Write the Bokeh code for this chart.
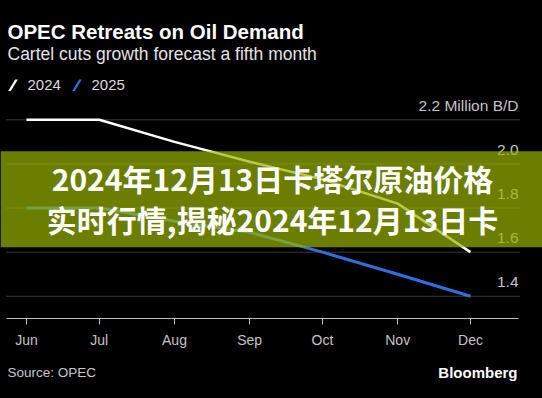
import pandas as pd
from bokeh.plotting import figure
from bokeh.layouts import column
from bokeh.models import Label, BoxAnnotation, PolyAnnotation, Range1d, FixedTicker, DatetimeTickFormatter
from bokeh.embed import file_html
from bokeh.resources import INLINE

# ---- data ----
months = ["2024-06-01", "2024-07-01", "2024-08-01", "2024-09-01",
          "2024-10-01", "2024-11-01", "2024-12-01"]
month_labels = ["Jun", "Jul", "Aug", "Sep", "Oct", "Nov", "Dec"]
growth_2024 = [2.2, 2.2, 2.1, 2.01, 1.93, 1.82, 1.6]
growth_2025 = [1.8, 1.8, 1.74, 1.69, 1.6, 1.5, 1.4]
y_ticks = [1.4, 1.6, 1.8, 2.0, 2.2]
y_tick_labels = ["1.4", "1.6", "1.8", "2.0", "2.2 Million B/D"]
series_names = ["2024", "2025"]
series_colors = ["#ffffff", "#2f6fe0"]

title_text = "OPEC Retreats on Oil Demand"
subtitle_text = "Cartel cuts growth forecast a fifth month"
source_text = "Source: OPEC"
brand_text = "Bloomberg"
banner_lines = ["2024年12月13日卡塔尔原油价格", "实时行情,揭秘2024年12月13日卡"]

# ---- scales ----
dates = pd.to_datetime(months)
tick_ms = [int(d.value // 10**6) for d in dates]
DAY = 86400000.0
PX_PER_DAY = 444.0 / 183.0          # Jun 1 -> Dec 1 spans 444 px
W, H_MAIN, H_FOOT = 542, 352, 46
FRAME_BOTTOM = 318
x_start = tick_ms[0] - 26.0 / PX_PER_DAY * DAY
x_end = x_start + W / PX_PER_DAY * DAY
def px_to_x(px):
    return x_start + px / PX_PER_DAY * DAY

PX_PER_UNIT = 220.6
y_top = 2.2 + 119.3 / PX_PER_UNIT
y_bottom = y_top - FRAME_BOTTOM / PX_PER_UNIT

p = figure(width=W, height=H_MAIN, x_axis_type="datetime",
           x_range=Range1d(x_start, x_end), y_range=Range1d(y_bottom, y_top),
           y_axis_location=None, toolbar_location=None, output_backend="svg",
           background_fill_color="#000000", border_fill_color="#000000",
           outline_line_color=None,
           min_border_left=0, min_border_right=0, min_border_top=0,
           min_border_bottom=H_MAIN - FRAME_BOTTOM)
p.grid.visible = False

# dotted horizontal gridlines (limited extent)
n = len(y_ticks)
p.segment(x0=[px_to_x(6)] * n, y0=y_ticks, x1=[px_to_x(520)] * n, y1=y_ticks,
          line_color="#707070", line_dash="1 1", line_width=1)

# x axis
ax = p.xaxis[0]
ax.ticker = FixedTicker(ticks=tick_ms)
ax.formatter = DatetimeTickFormatter(months="%b", days="%b", hours="%b", years="%b")
ax.major_label_overrides = {t: lab for t, lab in zip(tick_ms, month_labels)}
ax.bounds = (px_to_x(6), px_to_x(518))
ax.axis_line_color = "#bdbdbd"
ax.major_tick_line_color = "#bdbdbd"
ax.major_tick_out = 6
ax.major_tick_in = 0
ax.minor_tick_line_color = None
ax.major_label_text_color = "#c4c4c4"
ax.major_label_text_font = "Liberation Sans"
ax.major_label_text_font_size = "14px"
ax.major_label_standoff = 7

# lines
p.line(dates, growth_2024, line_color=series_colors[0], line_width=2.5)
p.line(dates, growth_2025, line_color=series_colors[1], line_width=3)

# y labels (above gridlines, right aligned)
for t, lab in zip(y_ticks, y_tick_labels):
    p.add_layout(Label(x=518, y=t, x_units="canvas", y_units="data", text=lab,
                       text_align="right", text_baseline="middle", y_offset=14,
                       text_color="#c4c4c4", text_font="Liberation Sans",
                       text_font_size="15.5px"))

# titles
p.add_layout(Label(x=7, y=31, x_units="canvas", y_units="canvas", text=title_text,
                   text_align="left", text_baseline="middle", text_color="#ffffff",
                   text_font="Liberation Sans", text_font_style="bold",
                   text_font_size="20.5px"))
p.add_layout(Label(x=7, y=53, x_units="canvas", y_units="canvas", text=subtitle_text,
                   text_align="left", text_baseline="middle", text_color="#e4e4e4",
                   text_font="Liberation Sans", text_font_size="17.5px"))

# legend
for i, (name, col) in enumerate(zip(series_names, series_colors)):
    bx = 9 + i * 64
    p.add_layout(PolyAnnotation(xs=[bx - 1.3, bx + 1.3, bx + 8.3, bx + 5.7],
                                ys=[90.5, 90.5, 79, 79],
                                xs_units="canvas", ys_units="canvas",
                                fill_color=col, fill_alpha=1, line_color=None))
    p.add_layout(Label(x=bx + 18, y=84, x_units="canvas", y_units="canvas", text=name,
                       text_align="left", text_baseline="middle", text_color="#dcdcdc",
                       text_font="Liberation Sans", text_font_size="15px"))

# banner overlay
p.add_layout(BoxAnnotation(left=0, right=W, top=150.7, bottom=246.7,
                           left_units="canvas", right_units="canvas",
                           top_units="canvas", bottom_units="canvas",
                           fill_color="#99b300", fill_alpha=0.7, line_color=None))
for j, line_txt in enumerate(banner_lines):
    p.add_layout(Label(x=272, y=177 + j * 41, x_units="canvas", y_units="canvas",
                       text=line_txt, text_align="center", text_baseline="middle",
                       text_color="#ffffff", text_font="Noto Sans CJK SC",
                       text_font_style="bold", text_font_size="30px"))

# footer strip
f = figure(width=W, height=H_FOOT, x_range=Range1d(0, 1), y_range=Range1d(0, 1),
           x_axis_location=None, y_axis_location=None, toolbar_location=None,
           output_backend="svg", background_fill_color="#000000",
           border_fill_color="#000000", outline_line_color=None, min_border=0)
f.grid.visible = False
f.add_layout(Label(x=7, y=20, x_units="canvas", y_units="canvas", text=source_text,
                   text_align="left", text_baseline="middle", text_color="#c8c8c8",
                   text_font="Liberation Sans", text_font_size="13.5px"))
f.add_layout(Label(x=517, y=20, x_units="canvas", y_units="canvas", text=brand_text,
                   text_align="right", text_baseline="middle", text_color="#ffffff",
                   text_font="Liberation Sans", text_font_style="bold",
                   text_font_size="15px"))

layout = column(p, f, spacing=0)
html = file_html(layout, INLINE, title="OPEC Retreats on Oil Demand")
html = html.replace("<head>", "<head><style>html,body{background:#000000;}</style>", 1)
open("out.html", "w").write(html)
